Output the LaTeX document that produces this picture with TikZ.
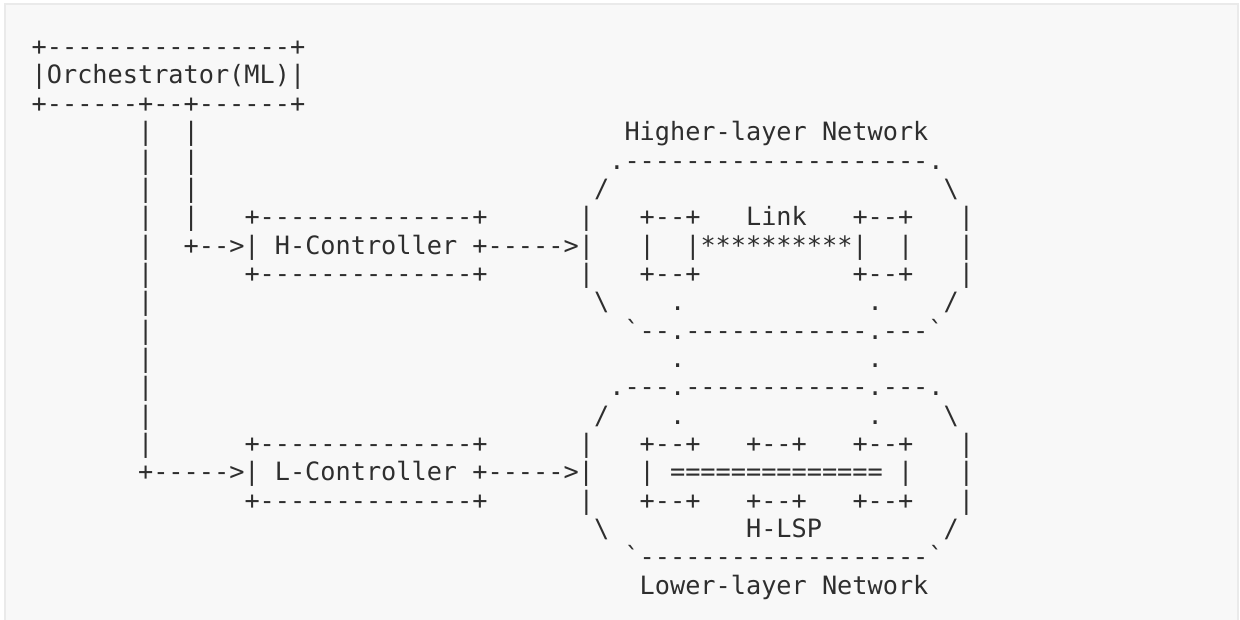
\documentclass[tikz,border=0pt]{standalone}
\usepackage{fontspec}
\newfontfamily\asciifont{DejaVu Sans Mono}
\definecolor{panel}{HTML}{F8F8F8}
\definecolor{panelrule}{HTML}{EAEAEA}
\definecolor{ink}{HTML}{2E2E2E}
\newcommand{\cw}{15.2}
\newcommand{\lh}{28.35}
\newcommand{\xo}{31.7}
\newcommand{\bo}{55.65}
% \ascseg{name}{col}{row}{text}
\newcommand{\ascseg}[4]{\node[asc] (#1) at ({\xo+#2*\cw},{-(\bo+(#3-1)*\lh)}) {#4};}
\begin{document}
\begin{tikzpicture}[x=1pt,y=1pt,
  asc/.style={anchor=base west, inner sep=0pt, outer sep=0pt, text=ink,
    font=\asciifont\fontsize{25.24}{28.35}\selectfont}]
\useasboundingbox (0,0) rectangle (1240,-620);
\fill[white] (0,0) rectangle (1240,-620);
\filldraw[fill=panel, draw=panelrule, line width=2pt] (5,-4) rectangle (1238,-640);
% Orchestrator box
\ascseg{r1a}{0}{1}{+----------------+}
\ascseg{r2a}{0}{2}{|Orchestrator(ML)|}
\ascseg{r3a}{0}{3}{+------+--+------+}
% row 4
\ascseg{r4a}{7}{4}{|}
\ascseg{r4b}{10}{4}{|}
\ascseg{r4c}{39}{4}{Higher-layer Network}
% row 5
\ascseg{r5a}{7}{5}{|}
\ascseg{r5b}{10}{5}{|}
\ascseg{r5c}{38}{5}{.--------------------.}
% row 6
\ascseg{r6a}{7}{6}{|}
\ascseg{r6b}{10}{6}{|}
\ascseg{r6c}{37}{6}{/}
\ascseg{r6d}{60}{6}{\symbol{92}}
% row 7
\ascseg{r7a}{7}{7}{|}
\ascseg{r7b}{10}{7}{|}
\ascseg{r7c}{14}{7}{+--------------+}
\ascseg{r7d}{36}{7}{|}
\ascseg{r7e}{40}{7}{+--+}
\ascseg{r7f}{47}{7}{Link}
\ascseg{r7g}{54}{7}{+--+}
\ascseg{r7h}{61}{7}{|}
% row 8
\ascseg{r8a}{7}{8}{|}
\ascseg{r8b}{10}{8}{+-->| H-Controller +----->|}
\ascseg{r8c}{40}{8}{|}
\ascseg{r8d}{43}{8}{|**********|}
\ascseg{r8e}{57}{8}{|}
\ascseg{r8f}{61}{8}{|}
% row 9
\ascseg{r9a}{7}{9}{|}
\ascseg{r9b}{14}{9}{+--------------+}
\ascseg{r9c}{36}{9}{|}
\ascseg{r9d}{40}{9}{+--+}
\ascseg{r9e}{54}{9}{+--+}
\ascseg{r9f}{61}{9}{|}
% row 10
\ascseg{r10a}{7}{10}{|}
\ascseg{r10b}{37}{10}{\symbol{92}}
\ascseg{r10c}{42}{10}{.}
\ascseg{r10d}{55}{10}{.}
\ascseg{r10e}{60}{10}{/}
% row 11
\ascseg{r11a}{7}{11}{|}
\ascseg{r11b}{39}{11}{\symbol{96}--.------------.---\symbol{96}}
% row 12
\ascseg{r12a}{7}{12}{|}
\ascseg{r12b}{42}{12}{.}
\ascseg{r12c}{55}{12}{.}
% row 13
\ascseg{r13a}{7}{13}{|}
\ascseg{r13b}{38}{13}{.---.------------.---.}
% row 14
\ascseg{r14a}{7}{14}{|}
\ascseg{r14b}{37}{14}{/}
\ascseg{r14c}{42}{14}{.}
\ascseg{r14d}{55}{14}{.}
\ascseg{r14e}{60}{14}{\symbol{92}}
% row 15
\ascseg{r15a}{7}{15}{|}
\ascseg{r15b}{14}{15}{+--------------+}
\ascseg{r15c}{36}{15}{|}
\ascseg{r15d}{40}{15}{+--+}
\ascseg{r15e}{47}{15}{+--+}
\ascseg{r15f}{54}{15}{+--+}
\ascseg{r15g}{61}{15}{|}
% row 16
\ascseg{r16a}{7}{16}{+----->| L-Controller +----->|}
\ascseg{r16b}{40}{16}{|}
\ascseg{r16c}{42}{16}{==============}
\ascseg{r16d}{57}{16}{|}
\ascseg{r16e}{61}{16}{|}
% row 17
\ascseg{r17a}{14}{17}{+--------------+}
\ascseg{r17b}{36}{17}{|}
\ascseg{r17c}{40}{17}{+--+}
\ascseg{r17d}{47}{17}{+--+}
\ascseg{r17e}{54}{17}{+--+}
\ascseg{r17f}{61}{17}{|}
% row 18
\ascseg{r18a}{37}{18}{\symbol{92}}
\ascseg{r18b}{47}{18}{H-LSP}
\ascseg{r18c}{60}{18}{/}
% row 19
\ascseg{r19a}{39}{19}{\symbol{96}-------------------\symbol{96}}
% row 20
\ascseg{r20a}{40}{20}{Lower-layer Network}
\end{tikzpicture}
\end{document}
